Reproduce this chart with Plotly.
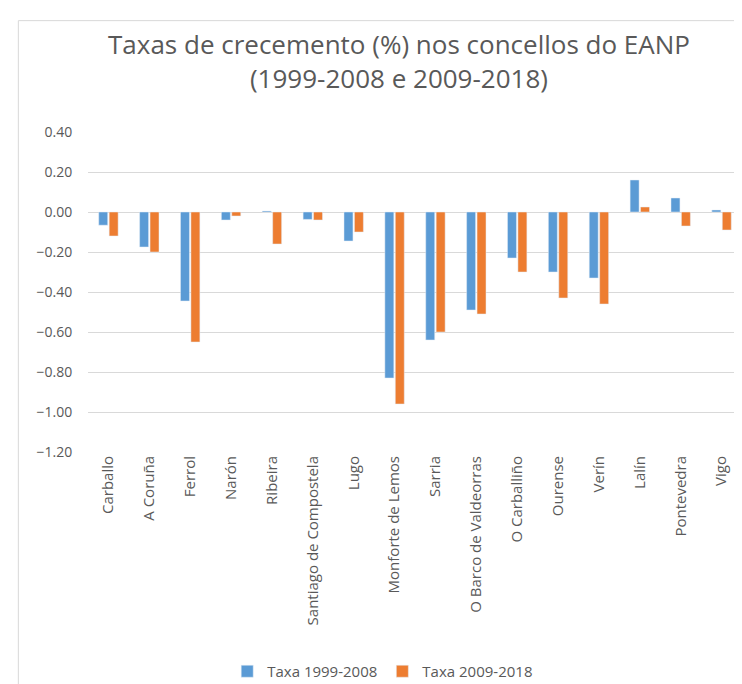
import plotly.graph_objects as go

concellos = ["Carballo", "A Coruña", "Ferrol", "Narón", "Ribeira", "Santiago de Compostela",
             "Lugo", "Monforte de Lemos", "Sarria", "O Barco de Valdeorras", "O Carballiño",
             "Ourense", "Verín", "Lalín", "Pontevedra", "Vigo"]
taxa_1999_2008 = [-0.066, -0.175, -0.445, -0.04, 0.005, -0.037, -0.145, -0.83,
                  -0.64, -0.49, -0.23, -0.30, -0.33, 0.16, 0.07, 0.01]
taxa_2009_2018 = [-0.12, -0.20, -0.65, -0.02, -0.16, -0.04, -0.10, -0.96,
                  -0.60, -0.51, -0.30, -0.43, -0.46, 0.025, -0.07, -0.09]
y_ticks = [0.4, 0.2, 0.0, -0.2, -0.4, -0.6, -0.8, -1.0, -1.2]

TXT = "#595959"
FONT = "Open Sans"

fig = go.Figure()
fig.add_trace(go.Bar(x=concellos, y=taxa_1999_2008, name="Taxa 1999-2008",
                     marker_color="#5B9BD5"))
fig.add_trace(go.Bar(x=concellos, y=taxa_2009_2018, name="Taxa 2009-2018",
                     marker_color="#ED7D31"))

fig.update_layout(
    width=742, height=684,
    margin=dict(l=80, r=8, t=124, b=240),
    paper_bgcolor="white", plot_bgcolor="white",
    barmode="group", bargap=0.49, bargroupgap=0.14,
    font=dict(family=FONT, color=TXT, size=15),
    showlegend=True,
    legend=dict(orientation="h", xref="container", yref="container",
                x=0.505, xanchor="center", y=0.03, yanchor="middle",
                font=dict(size=15, color=TXT), itemwidth=30,
                traceorder="normal"),
    annotations=[dict(
        text="Taxas de crecemento (%) nos concellos do EANP<br>(1999-2008 e 2009-2018)",
        xref="paper", yref="paper", x=0.475, y=1.222,
        xanchor="center", yanchor="middle", showarrow=False,
        font=dict(family=FONT, size=26, color=TXT))],
    shapes=[dict(type="rect", xref="paper", yref="paper",
                 x0=-0.1065, x1=1.2, y0=-1.0, y1=1.348,
                 line=dict(color="#D9D9D9", width=1), layer="below")],
)
fig.update_yaxes(range=[-1.2, 0.4], tickvals=y_ticks, tickformat=".2f",
                 showgrid=True, gridcolor="#D9D9D9", gridwidth=1,
                 zeroline=False, showline=False,
                 ticks="outside", ticklen=12, tickcolor="rgba(0,0,0,0)",
                 tickfont=dict(size=14, color=TXT))
fig.update_xaxes(tickangle=-90, showgrid=False, showline=False, ticks="",
                 tickfont=dict(size=15, color=TXT))

fig.write_html("out.html")
